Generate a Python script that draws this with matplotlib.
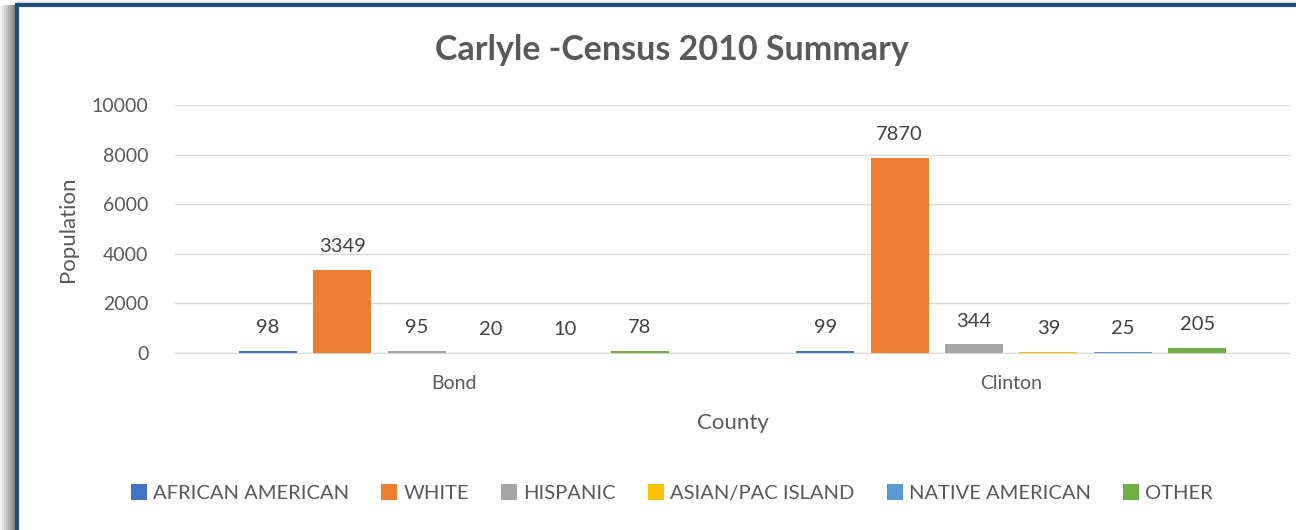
import numpy as np
import matplotlib
matplotlib.use('Agg')
import matplotlib.pyplot as plt
from matplotlib.patches import Rectangle

# census counts per county
counties = ['Bond', 'Clinton']
groups = ['AFRICAN AMERICAN', 'WHITE', 'HISPANIC', 'ASIAN/PAC ISLAND', 'NATIVE AMERICAN', 'OTHER']
bond = [98, 3349, 95, 20, 10, 78]
clinton = [99, 7870, 344, 39, 25, 205]
colors = ['#4472C4', '#ED7D31', '#A5A5A5', '#FFC000', '#5B9BD5', '#70AD47']

plt.rcParams['font.family'] = ['Lato', 'DejaVu Sans']
txt = '#595959'

fig = plt.figure(figsize=(12.96, 5.30), dpi=100)
fig.patch.set_facecolor('white')

# shadow + frame around the chart (figure coords), kept behind the axes
W, H = 1296.0, 530.0
for i in range(8):
    fig.patches.append(Rectangle((i * 2 / W, 0), 2 / W, 1 - 5 / H, transform=fig.transFigure,
                                 facecolor='#505050', alpha=0.08 + i * 0.09, edgecolor='none', zorder=-3))
for i in range(4):
    fig.patches.append(Rectangle((17 / W, 1 - (i + 1) * 1.2 / H), 1 - 17 / W, 1.2 / H, transform=fig.transFigure,
                                 facecolor='#808080', alpha=0.08 + i * 0.08, edgecolor='none', zorder=-3))
fig.patches.append(Rectangle((17 / W, -0.05), 1.0, 1 - 5 / H + 0.05, transform=fig.transFigure,
                             facecolor='white', edgecolor='#1F4E79', linewidth=3, zorder=-2))

ax = fig.add_axes([175 / W, 1 - 353 / H, (1290 - 175) / W, (353 - 105) / H])
ax.set_facecolor('none')

x = np.arange(len(counties))
pitch = 0.1335
width = 0.104
for i, g in enumerate(groups):
    vals = [bond[i], clinton[i]]
    pos = x + (i - 2.5) * pitch
    ax.bar(pos, vals, width, color=colors[i], label=g, zorder=3)
    for p, v in zip(pos, vals):
        ax.text(p, v + 600, str(v), ha='center', va='bottom', fontsize=14.5, color='#404040')

ax.set_xlim(-0.5, 1.5)
ax.set_ylim(0, 10000)
ax.set_yticks(range(0, 10001, 2000))
ax.set_xticks(x)
ax.set_xticklabels(counties)
ax.grid(axis='y', color='#D9D9D9', linewidth=1)
ax.set_axisbelow(True)
for s in ['top', 'right', 'left']:
    ax.spines[s].set_visible(False)
ax.spines['bottom'].set_color('#D9D9D9')
ax.tick_params(length=0, labelsize=14, colors=txt)
ax.tick_params(axis='x', pad=16)
ax.tick_params(axis='y', pad=19)
ax.set_ylabel('Population', fontsize=16, color=txt, labelpad=10)
ax.set_xlabel('County', fontsize=16, color=txt, labelpad=15)

fig.text(672 / W, 1 - 50 / H, 'Carlyle -Census 2010 Summary', ha='center', va='center',
         fontsize=24.5, fontweight='bold', color=txt)

fig.legend(loc='center', bbox_to_anchor=(672 / W, 1 - 493 / H), ncol=6, frameon=False,
           fontsize=14.5, labelcolor=txt, handlelength=0.8, handleheight=0.8,
           handletextpad=0.3, columnspacing=1.6)

fig.savefig('out.png', dpi=100)
